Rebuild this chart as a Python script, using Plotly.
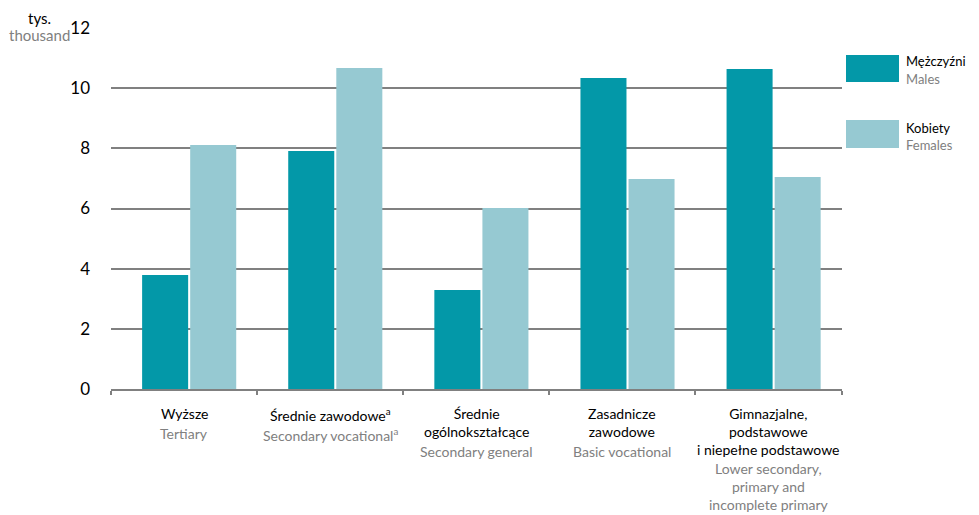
import plotly.graph_objects as go

categories = ["Wyższe", "Średnie zawodowe", "Średnie ogólnokształcące", "Zasadnicze zawodowe", "Gimnazjalne, podstawowe i niepełne podstawowe"]
labels_pl = [
    ["Wyższe"],
    ["Średnie zawodowe<sup>a</sup>"],
    ["Średnie", "ogólnokształcące"],
    ["Zasadnicze", "zawodowe"],
    ["Gimnazjalne,", "podstawowe", "i niepełne podstawowe"],
]
labels_en = [
    ["Tertiary"],
    ["Secondary vocational<sup>a</sup>"],
    ["Secondary general"],
    ["Basic vocational"],
    ["Lower secondary,", "primary and", "incomplete primary"],
]
males = [3.79, 7.91, 3.29, 10.34, 10.64]
females = [8.11, 10.67, 6.02, 6.98, 7.05]
y_ticks = [0, 2, 4, 6, 8, 10, 12]

MALE_C = "#0398a8"
FEMALE_C = "#96c9d2"
GRAY = "#808080"
FONT = "Lato, Roboto, sans-serif"
FS = 14

# the page body adds an 8px offset; figure is sized so the plot lands where the reference has it
OFF = 8

fig = go.Figure()
# bars sit slightly right of the category centre in the reference
fig.add_trace(go.Bar(x=categories, y=males, name="Mężczyźni", marker_color=MALE_C, marker_line_width=0,
                     width=0.315, offset=-0.287))
fig.add_trace(go.Bar(x=categories, y=females, name="Kobiety", marker_color=FEMALE_C, marker_line_width=0,
                     width=0.315, offset=0.042))

fig.update_layout(
    width=979 - OFF, height=515 - OFF,
    margin=dict(l=111 - OFF, r=137, t=28 - OFF, b=126),
    paper_bgcolor="white", plot_bgcolor="white",
    barmode="overlay",
    showlegend=False,
    font=dict(family=FONT, size=FS, color="black"),
)
fig.update_xaxes(
    type="category", showticklabels=False, automargin=False,
    tickson="boundaries", ticks="outside", ticklen=4, tickcolor=GRAY, tickwidth=2,
    showline=True, linecolor=GRAY, linewidth=2, showgrid=False,
)
fig.update_yaxes(
    range=[0, 12], tickvals=y_ticks, showgrid=True, gridcolor=GRAY, gridwidth=1.5,
    zeroline=False, showline=False, ticks="", ticklabelstandoff=20, automargin=False,
    tickfont=dict(size=17, color="black"),
)

def py(p):
    return (389 - p) / 361.0

def px(p):
    return (p - 111) / 731.0

def block_ann(x, xref, ytop, lines, color, size=FS, xanchor="center"):
    fig.add_annotation(xref=xref, yref="paper", x=x, y=py(ytop), text="<br>".join(lines), showarrow=False,
                       xanchor=xanchor, yanchor="top", align="center", font=dict(size=size, color=color))

# category labels: Polish block (black) then English block (gray)
for cat, pl, en in zip(categories, labels_pl, labels_en):
    block_ann(cat, "x", 403, pl, "black")
    en_top = 403 + 18.2 * len(pl) + (0 if len(pl) == 3 else 2)
    block_ann(cat, "x", en_top, en, GRAY)

def line_ann(x, ycenter, text, color, size, xanchor):
    fig.add_annotation(xref="paper", yref="paper", x=x, y=py(ycenter), text=text, showarrow=False,
                       xanchor=xanchor, yanchor="middle", font=dict(size=size, color=color))

# axis unit title
line_ann(px(39), 18, "tys.", "black", 15, "center")
line_ann(px(39), 35, "thousand", GRAY, 15, "center")

# custom legend
legend_items = [("Mężczyźni", "Males", MALE_C, 55, 82, 61, 79),
                ("Kobiety", "Females", FEMALE_C, 120, 148, 128, 145)]
for pl, en, col, y0, y1, ty1, ty2 in legend_items:
    fig.add_shape(type="rect", xref="paper", yref="paper", x0=px(846), x1=px(899), y0=py(y1), y1=py(y0),
                  fillcolor=col, line_width=0)
    line_ann(px(904), ty1, pl, "black", 13, "left")
    line_ann(px(904), ty2, en, GRAY, 13, "left")

fig.write_html("out.html")
